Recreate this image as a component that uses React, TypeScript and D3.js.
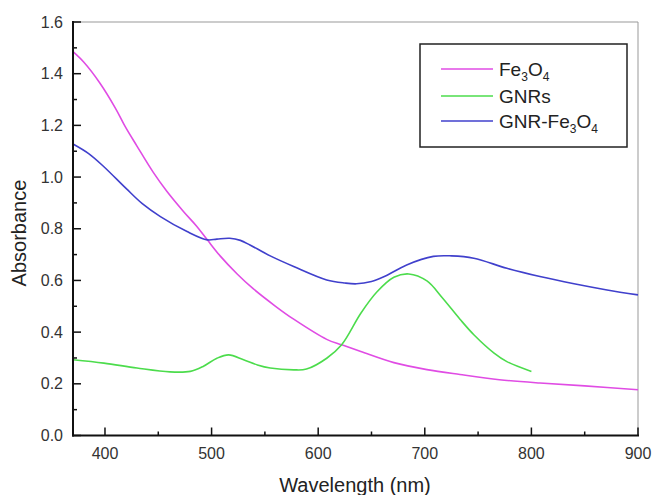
import React, { useEffect, useRef } from 'react';
import * as d3 from 'd3';

// wavelength (nm) / absorbance
const feWave = [370, 380, 395, 410, 419, 430, 445, 458, 474, 486, 496, 508, 524, 539, 560, 577, 608, 622, 640, 671, 702, 733, 770, 808, 850, 900];
const feAbs = [1.485, 1.445, 1.365, 1.265, 1.195, 1.12, 1.02, 0.945, 0.865, 0.81, 0.757, 0.695, 0.625, 0.568, 0.5, 0.45, 0.372, 0.351, 0.325, 0.282, 0.255, 0.236, 0.216, 0.203, 0.192, 0.177];

const gnrWave = [370, 399, 430, 461, 480, 492, 505, 516, 530, 543, 555, 577, 589, 608, 622, 640, 655, 671, 685, 702, 716, 733, 746, 765, 777, 800];
const gnrAbs = [0.293, 0.28, 0.261, 0.246, 0.248, 0.267, 0.299, 0.312, 0.293, 0.273, 0.261, 0.254, 0.257, 0.299, 0.351, 0.473, 0.555, 0.612, 0.625, 0.598, 0.535, 0.45, 0.39, 0.319, 0.286, 0.248];

const mixWave = [370, 385, 399, 420, 435, 452, 477, 496, 505, 517, 527, 536, 546, 555, 577, 608, 625, 636, 650, 661, 683, 708, 725, 746, 777, 808, 840, 871, 900];
const mixAbs = [1.128, 1.09, 1.04, 0.955, 0.897, 0.847, 0.789, 0.757, 0.76, 0.763, 0.755, 0.737, 0.715, 0.695, 0.654, 0.602, 0.59, 0.587, 0.596, 0.613, 0.66, 0.693, 0.695, 0.686, 0.647, 0.615, 0.587, 0.563, 0.544];

const xMajor = [400, 500, 600, 700, 800, 900];
const xMinor = [450, 550, 650, 750, 850];
const yMajor = [0, 0.2, 0.4, 0.6, 0.8, 1.0, 1.2, 1.4, 1.6];
const yMinor = [0.1, 0.3, 0.5, 0.7, 0.9, 1.1, 1.3, 1.5];

const series = [
  { name: 'Fe3O4', wave: feWave, abs: feAbs, color: '#e04ce4' },
  { name: 'GNRs', wave: gnrWave, abs: gnrAbs, color: '#4cdc4c' },
  { name: 'GNR-Fe3O4', wave: mixWave, abs: mixAbs, color: '#4040cc' },
];

const W = 654;
const H = 495;
const font = '"Liberation Sans", Arial, sans-serif';

export default function App() {
  const ref = useRef<SVGSVGElement>(null);

  useEffect(() => {
    const svg = d3.select(ref.current);
    svg.selectAll('*').remove();

    const x = d3.scaleLinear().domain([370, 900]).range([73, 638]);
    const y = d3.scaleLinear().domain([0, 1.6]).range([435.5, 22]);
    const [x0, x1] = x.range();
    const [y0, y1] = y.range();

    // frame: light top/right, black left/bottom
    svg.append('line').attr('x1', x0).attr('x2', x1).attr('y1', y1).attr('y2', y1)
      .attr('stroke', '#999').attr('stroke-width', 1);
    svg.append('line').attr('x1', x1).attr('x2', x1).attr('y1', y1).attr('y2', y0)
      .attr('stroke', '#999').attr('stroke-width', 1);

    // curves
    const line = d3.line<[number, number]>()
      .x(d => x(d[0]))
      .y(d => y(d[1]))
      .curve(d3.curveCatmullRom.alpha(0.5));
    series.forEach(s => {
      const pts = s.wave.map((w, i) => [w, s.abs[i]] as [number, number]);
      svg.append('path')
        .datum(pts)
        .attr('fill', 'none')
        .attr('stroke', s.color)
        .attr('stroke-width', 1.6)
        .attr('d', line);
    });

    // x axis
    const gx = svg.append('g');
    gx.append('line').attr('x1', x0 - 1).attr('x2', x1 + 1).attr('y1', y0).attr('y2', y0)
      .attr('stroke', '#111').attr('stroke-width', 2);
    gx.selectAll('.xmaj').data(xMajor).enter().append('line')
      .attr('x1', d => x(d)).attr('x2', d => x(d)).attr('y1', y0).attr('y2', y0 - 8)
      .attr('stroke', '#111').attr('stroke-width', 1.5);
    gx.selectAll('.xmin').data(xMinor).enter().append('line')
      .attr('x1', d => x(d)).attr('x2', d => x(d)).attr('y1', y0).attr('y2', y0 - 4)
      .attr('stroke', '#111').attr('stroke-width', 1.5);
    gx.selectAll('text').data(xMajor).enter().append('text')
      .attr('x', d => x(d)).attr('y', 459)
      .attr('text-anchor', 'middle')
      .attr('font-family', font).attr('font-size', 16).attr('fill', '#333')
      .text(d => d);

    // y axis
    const gy = svg.append('g');
    gy.append('line').attr('x1', x0).attr('x2', x0).attr('y1', y0 + 1).attr('y2', y1 - 1)
      .attr('stroke', '#111').attr('stroke-width', 2);
    gy.selectAll('.ymaj').data(yMajor).enter().append('line')
      .attr('x1', x0).attr('x2', x0 + 8).attr('y1', d => y(d)).attr('y2', d => y(d))
      .attr('stroke', '#111').attr('stroke-width', 1.5);
    gy.selectAll('.ymin').data(yMinor).enter().append('line')
      .attr('x1', x0).attr('x2', x0 + 4).attr('y1', d => y(d)).attr('y2', d => y(d))
      .attr('stroke', '#111').attr('stroke-width', 1.5);
    gy.selectAll('text').data(yMajor).enter().append('text')
      .attr('x', 63).attr('y', d => y(d) + 5.5)
      .attr('text-anchor', 'end')
      .attr('font-family', font).attr('font-size', 16).attr('fill', '#333')
      .text(d => d.toFixed(1));

    // axis titles
    svg.append('text')
      .attr('x', 355).attr('y', 492)
      .attr('text-anchor', 'middle')
      .attr('font-family', font).attr('font-size', 20).attr('fill', '#222')
      .text('Wavelength (nm)');
    svg.append('text')
      .attr('transform', 'translate(26,233) rotate(-90)')
      .attr('text-anchor', 'middle')
      .attr('font-family', font).attr('font-size', 20).attr('fill', '#222')
      .text('Absorbance');

    // legend
    const lg = svg.append('g');
    lg.append('rect').attr('x', 420).attr('y', 44).attr('width', 207).attr('height', 103)
      .attr('fill', '#fff').attr('stroke', '#222').attr('stroke-width', 1.5);
    const rows = [69, 96, 121];
    series.forEach((s, i) => {
      lg.append('line').attr('x1', 441).attr('x2', 493).attr('y1', rows[i]).attr('y2', rows[i])
        .attr('stroke', s.color).attr('stroke-width', 1.6);
      const t = lg.append('text')
        .attr('x', 499).attr('y', rows[i] + 7)
        .attr('font-family', font).attr('font-size', 19).attr('fill', '#222');
      if (s.name === 'GNRs') {
        t.text('GNRs');
      } else {
        const pre = s.name === 'GNR-Fe3O4' ? 'GNR-Fe' : 'Fe';
        t.append('tspan').text(pre);
        t.append('tspan').attr('dy', 5).attr('font-size', 12).text('3');
        t.append('tspan').attr('dy', -5).text('O');
        t.append('tspan').attr('dy', 5).attr('font-size', 12).text('4');
      }
    });
  }, []);

  return (
    <svg
      ref={ref}
      width={W}
      height={H}
      style={{ position: 'absolute', left: 0, top: 0, background: '#fff' }}
    />
  );
}
